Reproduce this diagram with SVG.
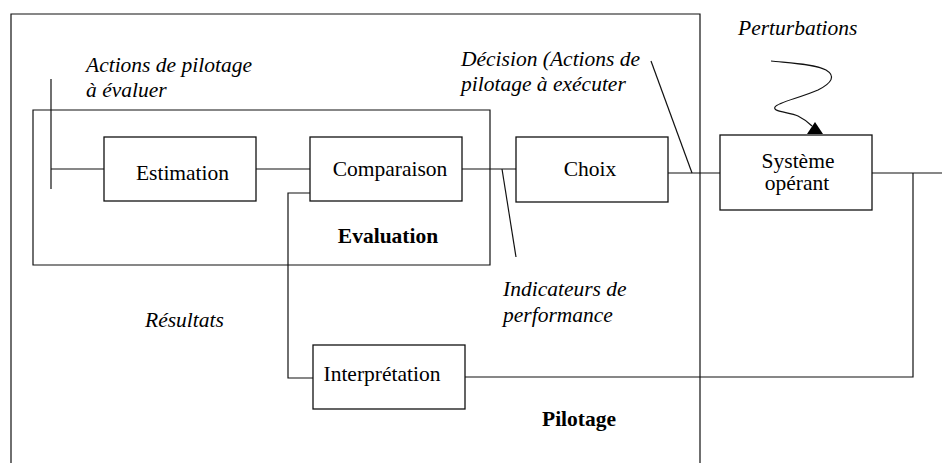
<svg xmlns="http://www.w3.org/2000/svg" width="942" height="463" viewBox="0 0 942 463" font-family="'Liberation Serif', 'Times New Roman', Times, serif">
<style>
.ln{fill:none;stroke:#111;stroke-width:1.2}
.box{fill:#fff;stroke:#111;stroke-width:1.3}
.t{font-family:'Liberation Serif','Times New Roman',Times,serif;font-size:21.5px;fill:#000}
.i{font-style:italic}
.b{font-weight:bold}
.m{text-anchor:middle}
</style>
<g id="frames">
<path class="ln" d="M11,463 V14 H700 V463"/>
<path class="ln" d="M33,110 H490 V265 H33 Z"/>
</g>
<g id="connectors">
<path class="ln" d="M51,79 V189"/>
<path class="ln" d="M51,169 H104"/>
<path class="ln" d="M256,169 H310"/>
<path class="ln" d="M462,169 H516"/>
<path class="ln" d="M502,169 L516,257"/>
<path class="ln" d="M668,173 H720"/>
<path class="ln" d="M651,61 L692,173"/>
<path class="ln" d="M872,173 H942"/>
<path class="ln" d="M913,173 V377 H465"/>
<path class="ln" d="M310,193 H288 V378 H313"/>
<path class="ln" d="M771,61 C790,63 815,64 826,70 C836,76 832,83 818,90 C800,98 778,102 775,107 C772,112 790,112 798,116 C804,119 808,122 812,126"/>
<polygon points="807,134 823,134 815,122" fill="#000"/>
</g>
<g id="estimation">
<rect class="box" x="104" y="137" width="152" height="64"/>
<text class="t m" x="182.5" y="180">Estimation</text>
</g>
<g id="comparaison">
<rect class="box" x="310" y="137" width="152" height="64"/>
<text class="t m" x="390" y="176">Comparaison</text>
</g>
<g id="choix">
<rect class="box" x="516" y="137" width="152" height="65"/>
<text class="t m" x="590" y="176">Choix</text>
</g>
<g id="systeme">
<rect class="box" x="720" y="135" width="152" height="75"/>
<text class="t m" x="798" y="168">Système</text>
<text class="t m" x="797" y="190">opérant</text>
</g>
<g id="interpretation">
<rect class="box" x="313" y="345" width="152" height="64"/>
<text class="t m" x="382" y="381">Interprétation</text>
</g>
<g id="labels">
<text class="t i" x="86" y="72">Actions de pilotage</text>
<text class="t i" x="86" y="97">à évaluer</text>
<text class="t i" x="461" y="66">Décision (Actions de</text>
<text class="t i" x="461" y="91">pilotage à exécuter</text>
<text class="t i" x="738" y="35">Perturbations</text>
<text class="t b m" x="388" y="243">Evaluation</text>
<text class="t i" x="145" y="327">Résultats</text>
<text class="t i" x="503" y="296">Indicateurs de</text>
<text class="t i" x="503" y="322">performance</text>
<text class="t b" x="542" y="426">Pilotage</text>
</g>
</svg>
